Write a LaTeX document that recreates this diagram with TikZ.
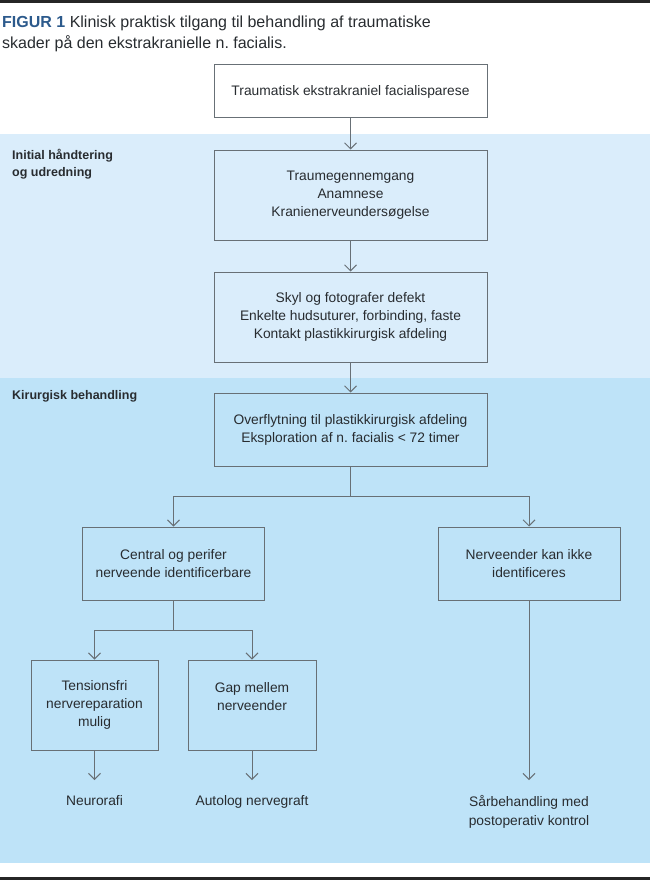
\documentclass[tikz,border=0pt]{standalone}
\usepackage{fontspec}
\setmainfont{Liberation Sans}
\usetikzlibrary{arrows.meta}
\definecolor{bandlight}{RGB}{218,237,251}
\definecolor{banddark}{RGB}{190,227,248}
\definecolor{linegray}{RGB}{104,112,118}
\definecolor{textdark}{RGB}{40,44,48}
\definecolor{figblue}{RGB}{44,90,140}
\tikzset{>={Straight Barb[length=6pt,width=12pt]}}
\tikzset{
  box/.style={draw=linegray,line width=1pt,align=center,inner sep=0pt,
    text=textdark,font=\fontsize{13.8}{18}\selectfont},
  seclabel/.style={anchor=north west,align=left,inner sep=0pt,text=textdark,
    font=\bfseries\fontsize{12.5}{17}\selectfont},
  outcome/.style={anchor=north,align=center,inner sep=0pt,text=textdark,
    font=\fontsize{13.8}{19}\selectfont},
  arr/.style={->,draw=linegray,line width=1pt},
}

\begin{document}
\begin{tikzpicture}[x=1pt,y=-1pt]
  \useasboundingbox (0,0) rectangle (650,880);
  % bands and rules
  \fill[bandlight] (0,134) rectangle (650,378);
  \fill[banddark] (0,378) rectangle (650,863);
  \fill[black!85] (0,0) rectangle (650,3);
  \fill[black!85] (0,877) rectangle (650,880);
  % title
  \node[anchor=north west,align=left,inner sep=0pt,text=textdark,
    font=\fontsize{16}{21}\selectfont] (title) at (2,15.5)
    {{\bfseries\color{figblue}FIGUR 1} Klinisk praktisk tilgang til behandling af traumatiske\\
     skader på den ekstrakranielle n.\ facialis.};
  % section labels
  \node[seclabel] (initlbl) at (12,149) {Initial håndtering\\og udredning};
  \node[seclabel] (kirlbl) at (12,390) {Kirurgisk behandling};
  % main column
  \node[box,fill=white,minimum width=273pt,minimum height=53pt] (pres) at (350.5,91.5)
    {Traumatisk ekstrakraniel facialisparese};
  \node[box,minimum width=273pt,minimum height=90pt] (trauma) at (350.5,195)
    {Traumegennemgang\\Anamnese\\Kranienerveundersøgelse};
  \node[box,minimum width=273pt,minimum height=90pt] (skyl) at (350.5,317)
    {Skyl og fotografer defekt\\Enkelte hudsuturer, forbinding, faste\\Kontakt plastikkirurgisk afdeling};
  \node[box,minimum width=273pt,minimum height=73pt] (overfl) at (350.5,429.5)
    {Overflytning til plastikkirurgisk afdeling\\Eksploration af n.\ facialis < 72 timer};
  % branches
  \node[box,minimum width=182pt,minimum height=73pt] (ident) at (173.5,563.5)
    {Central og perifer\\nerveende identificerbare};
  \node[box,minimum width=182pt,minimum height=73pt] (ikke) at (529,563.5)
    {Nerveender kan ikke\\identificeres};
  \node[box,minimum width=127pt,minimum height=90pt] (tension) at (94.5,705)
    {Tensionsfri\\nervereparation\\mulig};
  \node[box,minimum width=128pt,minimum height=90pt] (gap) at (252,705)
    {Gap mellem\\nerveender\\\mbox{}};
  % outcomes
  \node[outcome] (neuro) at (94.5,795) {Neurorafi};
  \node[outcome] (graft) at (252,795) {Autolog nervegraft};
  \node[outcome] (wound) at (529,795) {Sårbehandling med\\postoperativ kontrol};
  % connectors
  \coordinate (fork1) at (350.5,496);
  \coordinate (fork2) at (173.5,630);
  \draw[arr] (pres) -- (trauma);
  \draw[arr] (trauma) -- (skyl);
  \draw[arr] (skyl) -- (overfl);
  \draw[arr] (overfl.south) -- (fork1) -| (ident.north);
  \draw[arr] (fork1) -| (ikke.north);
  \draw[arr] (ident.south) -- (fork2) -| (tension.north);
  \draw[arr] (fork2) -| (gap.north);
  \draw[arr,shorten >=15pt] (tension.south) -- (neuro.north);
  \draw[arr,shorten >=15pt] (gap.south) -- (graft.north);
  \draw[arr,shorten >=15pt] (ikke.south) -- (wound.north);
\end{tikzpicture}
\end{document}
